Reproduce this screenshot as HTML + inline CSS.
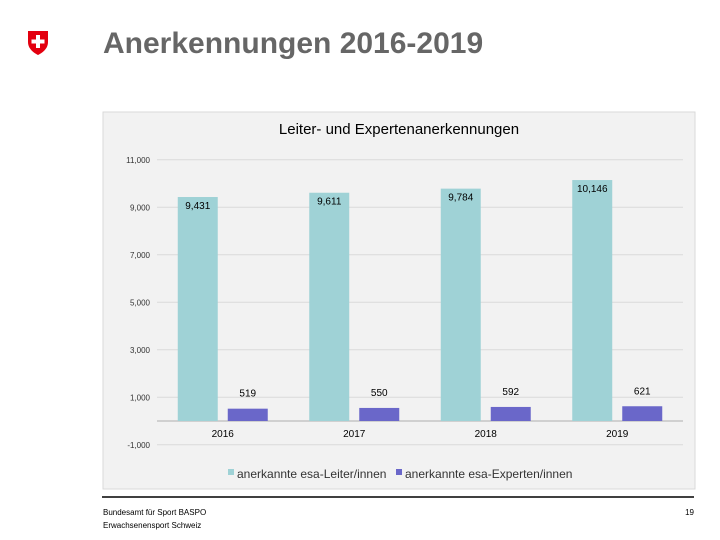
<!DOCTYPE html>
<html><head><meta charset="utf-8"><style>
body{margin:0;width:720px;height:540px;background:#fff;font-family:"Liberation Sans",sans-serif;position:relative;overflow:hidden}
.abs{position:absolute}
</style></head><body>
<svg class="abs" style="left:27px;top:30px" width="22" height="26">
<path d="M1 1 H21 V12 C21 19 15 23 11 25 C7 23 1 19 1 12 Z" fill="#e3000f"/>
<rect x="9" y="5" width="4" height="13" fill="#fff"/><rect x="4.5" y="9.5" width="13" height="4" fill="#fff"/>
</svg>
<div class="abs" style="left:103px;top:27px;font-size:30px;font-weight:bold;color:#666">Anerkennungen 2016-2019</div>
<svg class="abs" style="left:0;top:0" width="720" height="540" id="chart">
<rect x="103" y="112" width="592" height="377" fill="#f2f2f2" stroke="#d9d9d9"/>
<text x="399" y="134" text-anchor="middle" font-size="15" fill="#000">Leiter- und Expertenanerkennungen</text>
<g id="grid"></g><g id="bars"></g>
<rect x="228" y="469" width="6" height="6" fill="#9fd2d6"/>
<text x="237" y="478" font-size="12" fill="#333">anerkannte esa-Leiter/innen</text>
<rect x="396" y="469" width="6" height="6" fill="#6a67c9"/>
<text x="405" y="478" font-size="12" fill="#333">anerkannte esa-Experten/innen</text>
<line x1="102" y1="497" x2="694" y2="497" stroke="#000" stroke-width="1.5"/>
<text x="103" y="515" font-size="8" fill="#000">Bundesamt für Sport BASPO</text>
<text x="103" y="528" font-size="8" fill="#000">Erwachsenensport Schweiz</text>
<text x="694" y="515" font-size="8" text-anchor="end" fill="#000">19</text>
</svg>
<script>
const categories=["2016","2017","2018","2019"];
const leiter=[9431,9611,9784,10146];
const experten=[519,550,592,621];
const ticks=[-1000,1000,3000,5000,7000,9000,11000];
const NS="http://www.w3.org/2000/svg";
const x0=157,x1=683,step=(x1-x0)/categories.length;
const y=v=>421-v*(47.5/2000);
function mk(t,a,p){const e=document.createElementNS(NS,t);for(const k in a)e.setAttribute(k,a[k]);p.appendChild(e);return e;}
const g=document.getElementById('grid'),b=document.getElementById('bars');
ticks.forEach(t=>{
 const l=mk('line',{x1:x0,x2:x1,y1:y(t),y2:y(t),stroke:'#d9d9d9'},g);
 
 
 const tx=mk('text',{x:150,y:y(t)+3,'text-anchor':'end','font-size':8,fill:'#333'},g);
 tx.textContent=t.toLocaleString('en-US');
 
 
});
const z=mk('line',{x1:x0,x2:x1,y1:y(0),y2:y(0),stroke:'#d0d0d0','stroke-width':2},g);


categories.forEach((c,i)=>{
 const cx=x0+step*(i+0.5);
 const r1=mk('rect',{x:cx-45,y:y(leiter[i]),width:40,height:y(0)-y(leiter[i]),fill:'#9fd2d6'},b);
 
 
 const r2=mk('rect',{x:cx+5,y:y(experten[i]),width:40,height:y(0)-y(experten[i]),fill:'#6a67c9'},b);
 
 
 const t1=mk('text',{x:cx-25,y:y(leiter[i])+12,'text-anchor':'middle','font-size':10,fill:'#000'},b);
 t1.textContent=leiter[i].toLocaleString('en-US');
 
 
 const t2=mk('text',{x:cx+25,y:y(experten[i])-12,'text-anchor':'middle','font-size':10,fill:'#000'},b);
 t2.textContent=experten[i].toLocaleString('en-US');
 
 
 const t3=mk('text',{x:cx,y:437,'text-anchor':'middle','font-size':10,fill:'#000'},b);
 t3.textContent=c;
 
 
});
</script>
</body></html>
